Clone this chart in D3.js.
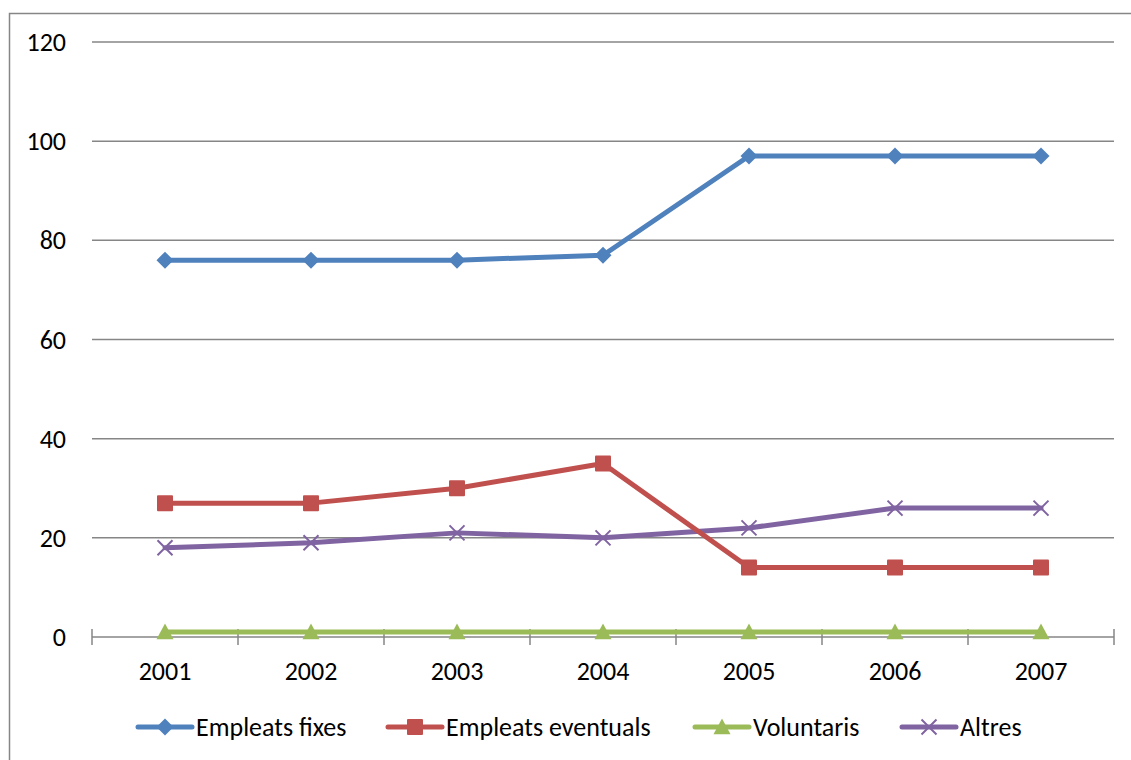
<!DOCTYPE html>
<html><head><meta charset="utf-8">
<script src="https://cdn.jsdelivr.net/npm/d3@7"></script>
<style>body{margin:0;background:#fff}svg{display:block;font-family:Carlito,Lato,"Liberation Sans",sans-serif}</style>
</head><body>
<svg id="c" width="1131" height="760"></svg>
<script>
const years = ["2001","2002","2003","2004","2005","2006","2007"];
const fixes = [76,76,76,77,97,97,97];
const eventuals = [27,27,30,35,14,14,14];
const voluntaris = [1,1,1,1,1,1,1];
const altres = [18,19,21,20,22,26,26];
const yTicks = [0,20,40,60,80,100,120];
const seriesNames = ["Empleats fixes","Empleats eventuals","Voluntaris","Altres"];
const seriesColors = ["#4F81BD","#C0504D","#9BBB59","#8064A2"];
const seriesMarkers = ["diamond","square","triangle","x"];

const series = [fixes,eventuals,voluntaris,altres].map((v,i)=>({name:seriesNames[i],values:v,color:seriesColors[i],marker:seriesMarkers[i]}));

const svg = d3.select("#c");
const L=92,R=1114,T=42,B=637;
const FS=26;
const x = d3.scaleBand().domain(years).range([L,R]).padding(0);
const cx = d=>x(d)+x.bandwidth()/2;
const y = d3.scaleLinear().domain([0,120]).range([B,T]);

// outer border (right/bottom edges fall outside the picture)
svg.append("rect").attr("x",9.5).attr("y",13.5).attr("width",1200).attr("height",800).attr("fill","none").attr("stroke","#868686").attr("stroke-width",1.5);

// gridlines
svg.append("g").selectAll("line").data(yTicks.filter(t=>t>0)).join("line")
  .attr("x1",L).attr("x2",R).attr("y1",d=>y(d)).attr("y2",d=>y(d))
  .attr("stroke","#868686").attr("stroke-width",1.5);

// y labels
svg.append("g").selectAll("text").data(yTicks).join("text")
  .attr("x",66).attr("y",d=>y(d)).attr("dy","0.35em").attr("text-anchor","end")
  .attr("font-size",FS).attr("fill","#000").text(d=>d);

// x axis
const xa = svg.append("g");
xa.append("line").attr("x1",L).attr("x2",R).attr("y1",B).attr("y2",B).attr("stroke","#868686").attr("stroke-width",1.5);
const bounds = years.map(d=>x(d)).concat([R]);
xa.selectAll("line.t").data(bounds).join("line").attr("class","t")
  .attr("x1",d=>d).attr("x2",d=>d).attr("y1",B-8).attr("y2",B+8).attr("stroke","#868686").attr("stroke-width",1.5);
xa.selectAll("text").data(years).join("text")
  .attr("x",cx).attr("y",B+34).attr("dy","0.35em").attr("text-anchor","middle").attr("font-size",FS).attr("fill","#000").text(d=>d);

function drawMarker(g, type, color, px, py){
  if(type==="diamond"){
    const s=8.5;
    g.append("path").attr("d",`M${px},${py-s}L${px+s},${py}L${px},${py+s}L${px-s},${py}Z`).attr("fill",color);
  } else if(type==="square"){
    const s=16;
    g.append("rect").attr("x",px-s/2).attr("y",py-s/2).attr("width",s).attr("height",s).attr("rx",1).attr("fill",color);
  } else if(type==="triangle"){
    const s=8.5;
    g.append("path").attr("d",`M${px},${py-s}L${px+s},${py+s*0.85}L${px-s},${py+s*0.85}Z`).attr("fill",color);
  } else {
    const s=7.5;
    g.append("path").attr("d",`M${px-s},${py-s}L${px+s},${py+s}M${px-s},${py+s}L${px+s},${py-s}`).attr("stroke",color).attr("stroke-width",2);
  }
}

const line = d3.line().x((d,i)=>cx(years[i])).y(d=>y(d));
const order=[2,0,3,1];
order.forEach(k=>{
  const s=series[k];
  const g=svg.append("g");
  g.append("path").attr("d",line(s.values)).attr("fill","none").attr("stroke",s.color).attr("stroke-width",5).attr("stroke-linejoin","round").attr("stroke-linecap","round");
  s.values.forEach((v,i)=>drawMarker(g,s.marker,s.color,cx(years[i]),y(v)));
});

// legend
const legX=[138,388,695,902];
const ly=727;
series.forEach((s,i)=>{
  const g=svg.append("g");
  g.append("line").attr("x1",legX[i]).attr("x2",legX[i]+54).attr("y1",ly).attr("y2",ly).attr("stroke",s.color).attr("stroke-width",5).attr("stroke-linecap","round");
  drawMarker(g,s.marker,s.color,legX[i]+27,ly);
  g.append("text").attr("x",legX[i]+58).attr("y",ly).attr("dy","0.35em").attr("font-size",FS).attr("fill","#000").text(s.name);
});
</script>
</body></html>
